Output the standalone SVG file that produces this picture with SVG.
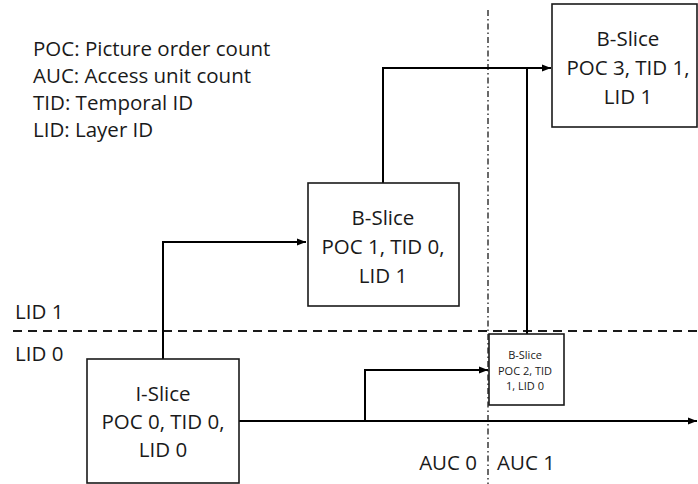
<svg xmlns="http://www.w3.org/2000/svg" width="698" height="484" viewBox="0 0 698 484">
<style>
text{font-family:"Open Sans","Liberation Sans",sans-serif;fill:#1a1a1a}
.t{font-size:20.5px}
.s{font-size:11px}
.box{fill:#fff;stroke:#1a1a1a;stroke-width:1.6}
.c{fill:none;stroke:#000;stroke-width:2}
</style>
<defs>
<marker id="ah" viewBox="0 0 10 10" refX="10" refY="5" markerWidth="4.5" markerHeight="4.5" orient="auto" markerUnits="strokeWidth"><path d="M0,1 L10,5 L0,9 z" fill="#000"/></marker>
</defs>
<rect width="698" height="484" fill="#fff"/>
<g id="legend" class="t">
<text x="33" y="56">POC: Picture order count</text>
<text x="33" y="83">AUC: Access unit count</text>
<text x="33" y="110">TID: Temporal ID</text>
<text x="33" y="137">LID: Layer ID</text>
</g>
<g id="guides">
<line x1="13" y1="331" x2="698" y2="331" stroke="#1a1a1a" stroke-width="2" stroke-dasharray="9,6"/>
<line x1="488" y1="10" x2="488" y2="484" stroke="#1a1a1a" stroke-width="1.3" stroke-dasharray="6,3,1.5,3"/>
<text class="t" x="15" y="319">LID 1</text>
<text class="t" x="15" y="361">LID 0</text>
<text class="t" x="477" y="470" text-anchor="end">AUC 0</text>
<text class="t" x="497" y="470">AUC 1</text>
</g>
<g id="connectors">
<polyline class="c" points="163,359 163,242 306,242" marker-end="url(#ah)"/>
<polyline class="c" points="383,183 383,68 551,68" marker-end="url(#ah)"/>
<line class="c" x1="527" y1="68" x2="527" y2="334"/>
<line class="c" x1="239" y1="421" x2="697" y2="421" marker-end="url(#ah)"/>
<polyline class="c" points="239,421 365,421 365,370 488,370" marker-end="url(#ah)"/>
</g>
<g id="i-slice">
<rect class="box" x="87" y="359" width="152" height="124"/>
<text class="t" text-anchor="middle" x="163" y="401">I-Slice</text>
<text class="t" text-anchor="middle" x="163" y="429">POC 0, TID 0,</text>
<text class="t" text-anchor="middle" x="163" y="457">LID 0</text>
</g>
<g id="b-slice-1">
<rect class="box" x="308" y="183" width="151" height="123"/>
<text class="t" text-anchor="middle" x="383" y="225">B-Slice</text>
<text class="t" text-anchor="middle" x="383" y="254">POC 1, TID 0,</text>
<text class="t" text-anchor="middle" x="383" y="283">LID 1</text>
</g>
<g id="b-slice-3">
<rect class="box" x="552" y="4" width="145" height="123"/>
<text class="t" text-anchor="middle" x="628" y="46">B-Slice</text>
<text class="t" text-anchor="middle" x="628" y="75">POC 3, TID 1,</text>
<text class="t" text-anchor="middle" x="628" y="104">LID 1</text>
</g>
<g id="b-slice-2">
<rect class="box" x="489" y="334" width="75" height="71"/>
<text class="s" text-anchor="middle" x="525" y="359">B-Slice</text>
<text class="s" text-anchor="middle" x="525" y="375">POC 2, TID</text>
<text class="s" text-anchor="middle" x="525" y="390">1, LID 0</text>
</g>
</svg>
